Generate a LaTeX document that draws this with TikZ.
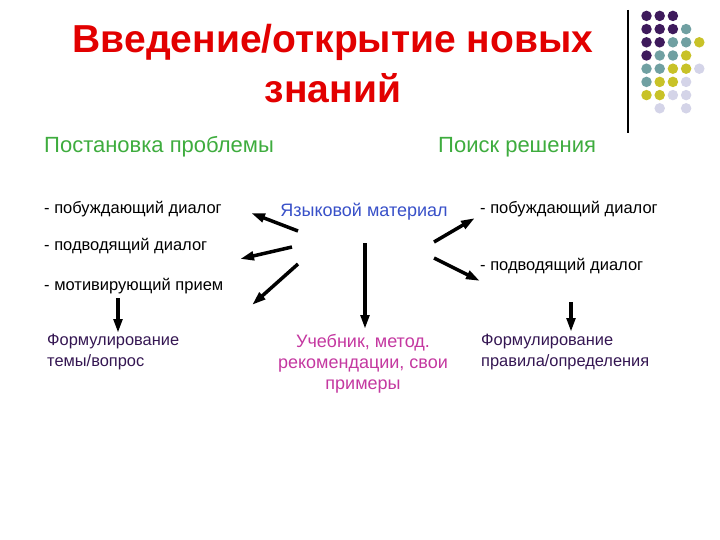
\documentclass[tikz,border=0pt]{standalone}
\usepackage{fontspec}
\setmainfont{Liberation Sans}
\usetikzlibrary{arrows.meta}
\definecolor{dpurple}{RGB}{62,26,92}
\definecolor{dteal}{RGB}{112,160,162}
\definecolor{dyellow}{RGB}{200,194,40}
\definecolor{dlav}{RGB}{212,212,232}
\definecolor{titlered}{RGB}{226,0,0}
\definecolor{subgreen}{RGB}{62,172,62}
\definecolor{matblue}{RGB}{56,80,200}
\definecolor{bookmag}{RGB}{196,56,160}
\definecolor{formpurple}{RGB}{52,22,82}
\tikzset{
  titletext/.style={font=\fontsize{39}{50}\selectfont\bfseries, text=titlered, align=center, inner sep=0pt, anchor=north},
  subtext/.style={font=\fontsize{22}{26}\selectfont, text=subgreen, inner sep=0pt, anchor=base west},
  itemtext/.style={font=\fontsize{16.5}{20}\selectfont, text=black, inner sep=0pt, anchor=base west},
  formtext/.style={font=\fontsize{16.4}{20.5}\selectfont, text=formpurple, inner sep=0pt, align=left, anchor=north west},
  mattext/.style={font=\fontsize{18}{21}\selectfont, text=matblue, inner sep=0pt, anchor=base},
  booktext/.style={font=\fontsize{18}{21}\selectfont, text=bookmag, inner sep=0pt, align=center, anchor=north},
  bigarrow/.style={line width=3.5pt, -{Triangle[length=14pt,width=8.5pt]}},
  dot/.style={circle, inner sep=0pt, minimum size=10.5pt},
}
\begin{document}
\begin{tikzpicture}[x=1pt,y=-1pt]
\useasboundingbox (0,0) rectangle (720,540);
% decorative line and dots
\draw[line width=1.2pt] (628,10) coordinate (vl1) -- (628,133) coordinate (vl2);
\foreach \row/\cols in {
 0/{0/dpurple,1/dpurple,2/dpurple},
 1/{0/dpurple,1/dpurple,2/dpurple,3/dteal},
 2/{0/dpurple,1/dpurple,2/dteal,3/dteal,4/dyellow},
 3/{0/dpurple,1/dteal,2/dteal,3/dyellow},
 4/{0/dteal,1/dteal,2/dyellow,3/dyellow,4/dlav},
 5/{0/dteal,1/dyellow,2/dyellow,3/dlav},
 6/{0/dyellow,1/dyellow,2/dlav,3/dlav},
 7/{1/dlav,3/dlav}}{
  \foreach \c/\col in \cols {
    \node[dot, fill=\col] (d\row\c) at ({646.5+13.2*\c},{15.9+13.2*\row}) {};
  }
}
% title
\node[titletext] (title) at (333,24) {Введение/открытие новых\\знаний};
\node[subtext] (post) at (44,153) {Постановка проблемы};
\node[subtext] (poisk) at (438,153) {Поиск решения};
% left column
\node[itemtext] (l1) at (44,214) {- побуждающий диалог};
\node[itemtext] (l2) at (44,251) {- подводящий диалог};
\node[itemtext] (l3) at (44,290) {- мотивирующий прием};
\node[formtext] (lf) at (47,334) {Формулирование\\темы/вопрос};
% centre
\node[mattext] (mat) at (364,216) {Языковой материал};
\node[booktext] (book) at (363,334) {Учебник, метод.\\рекомендации, свои\\примеры};
% right column
\node[itemtext] (r1) at (480,214) {- побуждающий диалог};
\node[itemtext] (r2) at (480,270) {- подводящий диалог};
\node[formtext] (rf) at (481,334) {Формулирование\\правила/определения};
% arrow end points
\coordinate (a1s) at (298,231); \coordinate (a1e) at (251,213);
\coordinate (a2s) at (292,247); \coordinate (a2e) at (240,259);
\coordinate (a3s) at (298,264); \coordinate (a3e) at (252,305);
\coordinate (a4s) at (365,243); \coordinate (a4e) at (365,329);
\coordinate (a5s) at (434,242); \coordinate (a5e) at (475,218);
\coordinate (a6s) at (434,258); \coordinate (a6e) at (480,281);
\coordinate (a7s) at (118,298); \coordinate (a7e) at (118,333);
\coordinate (a8s) at (571,302); \coordinate (a8e) at (571,332);
\draw[bigarrow] (a1s) -- (a1e);
\draw[bigarrow] (a2s) -- (a2e);
\draw[bigarrow] (a3s) -- (a3e);
\draw[bigarrow] (a4s) -- (a4e);
\draw[bigarrow] (a5s) -- (a5e);
\draw[bigarrow] (a6s) -- (a6e);
\draw[bigarrow] (a7s) -- (a7e);
\draw[bigarrow] (a8s) -- (a8e);
\end{tikzpicture}
\end{document}
